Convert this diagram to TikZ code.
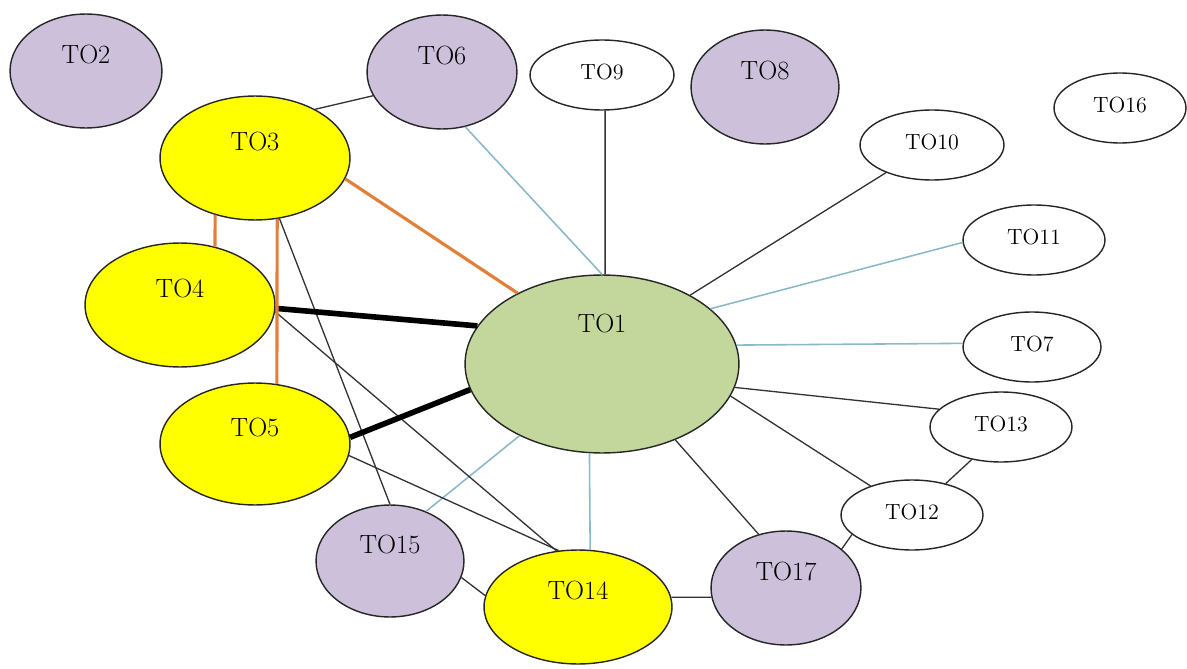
\documentclass[tikz,border=0pt]{standalone}
\usepackage{tikz}
\usepackage{xcolor}
\usetikzlibrary{shapes.geometric}

\definecolor{lilac}{RGB}{204,192,218}
\definecolor{olivefill}{RGB}{195,214,155}
\definecolor{sunfill}{RGB}{255,255,0}
\definecolor{aqua}{RGB}{140,185,200}
\definecolor{rust}{RGB}{226,128,58}

\begin{document}
\begin{tikzpicture}[x=0.02cm,y=-0.02cm,
  oval/.style 2 args={ellipse,draw=black!85,line width=0.8pt,inner sep=0pt,minimum width=#1*0.04cm,minimum height=#2*0.04cm},
  big/.style={font=\fontsize{15}{15}\selectfont,text height=11pt,text depth=19pt},
  lil/.style={big,fill=lilac},
  sun/.style={big,fill=sunfill},
  plain/.style={fill=white,font=\fontsize{12.5}{12.5}\selectfont,text height=9pt,text depth=4pt},
  wire/.style={black!80,line width=0.75pt},
  pale/.style={aqua,line width=0.9pt},
  heavy/.style={black,line width=3.2pt},
  amber/.style={rust,line width=1.8pt}]
\useasboundingbox (0,0) rectangle (1187,669);

% nodes
\node[oval={137}{89},fill=olivefill,font=\fontsize{15}{15}\selectfont,text height=11pt,text depth=47pt] (TO1) at (602,364) {TO1};
\node[oval={76}{57},lil] (TO2) at (86,71) {TO2};
\node[oval={95}{62},sun] (TO3) at (255,158) {TO3};
\node[oval={95}{62},sun] (TO4) at (180,305) {TO4};
\node[oval={95}{61},sun] (TO5) at (255,444) {TO5};
\node[oval={75}{57},lil] (TO6) at (442,72) {TO6};
\node[oval={69}{35},plain] (TO7) at (1032,347) {TO7};
\node[oval={74}{57},lil] (TO8) at (765,87) {TO8};
\node[oval={72}{35},plain] (TO9) at (602,75) {TO9};
\node[oval={72}{35},plain] (TO10) at (932,145) {TO10};
\node[oval={71}{35},plain] (TO11) at (1034,240) {TO11};
\node[oval={71}{35},plain] (TO12) at (912,515) {TO12};
\node[oval={71}{35},plain] (TO13) at (1001,427) {TO13};
\node[oval={94}{57},sun] (TO14) at (578,607) {TO14};
\node[oval={74}{56},lil] (TO15) at (390,561) {TO15};
\node[oval={66}{35},plain] (TO16) at (1120,108) {TO16};
\node[oval={75}{57},lil] (TO17) at (786,588) {TO17};

% links
\draw[wire] (TO3.39) -- (TO6.199);
\draw[pale] (TO6.293) -- (TO1.90);
\draw[wire] (TO9.-85) -- (TO1.88);
\draw[wire] (TO10.211) -- (TO1.38);
\draw[pale] (TO11.182) -- (TO1.27);
\draw[pale] (TO7.177) -- (TO1.8);
\draw[wire] (TO13.164) -- (TO1.-10);
\draw[wire] (TO12.145) -- (TO1.-14);
\draw[wire] (TO12.43) -- (TO13.228);
\draw[wire] (TO12.198) -- (TO17.35);
\draw[wire] (TO17.117) -- (TO1.-46);
\draw[wire] (TO14.6) -- (TO17.187);
\draw[pale] (TO14.78) -- (TO1.262);
\draw[pale] (TO15.54) -- (TO1.221);
\draw[wire] (TO15.-13) -- (TO14.173);
\draw[wire] (TO3.-68) -- (TO15.90);
\draw[wire] (TO4.-4) -- (TO14.111);
\draw[wire] (TO5.-7) -- (TO14.109);
\draw[heavy] (TO4.-2) -- (TO1.163);
\draw[heavy] (TO5.4) -- (TO1.191);
\draw[amber] (TO3.-13) -- (TO1.140);
\draw[amber] (TO3.235) -- (TO4.59);
\draw[amber] (TO3.-70) -- (TO5.70);
\end{tikzpicture}
\end{document}
